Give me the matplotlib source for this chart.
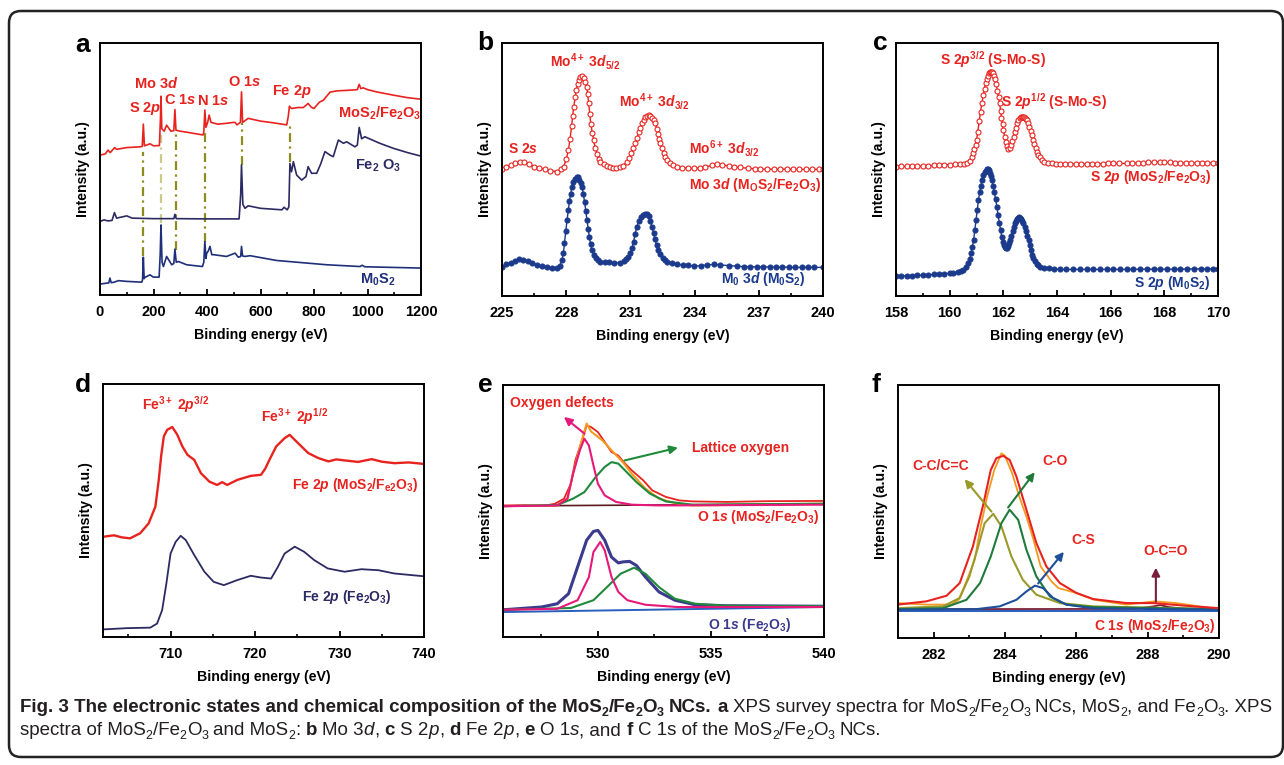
import matplotlib
matplotlib.use('Agg')
import matplotlib.pyplot as plt
from matplotlib.ticker import MultipleLocator
from matplotlib.patches import FancyBboxPatch
from matplotlib.transforms import IdentityTransform

W, H = 1284, 765
FONT = ['Liberation Sans', 'DejaVu Sans']
plt.rcParams['font.family'] = FONT
plt.rcParams['font.weight'] = 'bold'
plt.rcParams['axes.labelweight'] = 'bold'
plt.rcParams['mathtext.fontset'] = 'custom'
plt.rcParams['mathtext.rm'] = 'Liberation Sans:bold'
plt.rcParams['mathtext.it'] = 'Liberation Sans:bold:italic'
plt.rcParams['mathtext.bf'] = 'Liberation Sans:bold'
plt.rcParams['mathtext.default'] = 'rm'

RED = '#e8231f'
NAVY = '#1f2f7a'
DARK = '#2c2a62'
BLUE = '#1b3a8c'

# ---------------- panel a: survey (binding energy eV, intensity % of axis height)
a_mix_x = [0, 20, 30, 38, 55, 62, 100, 150, 158, 162, 166, 187, 200, 222, 226, 228, 231, 240, 249, 265,
           276, 280, 284, 300, 330, 385, 388, 392, 396, 403, 408, 415, 440, 470, 500, 505, 512, 525, 529,
           533, 554, 600, 650, 698, 704, 708, 716, 740, 760, 778, 790, 800, 820, 835, 860, 885, 940, 962,
           969, 975, 984, 1000, 1034, 1097, 1150, 1200]
a_mix_y = [55.5, 56.0, 57.5, 56.5, 58.5, 57.8, 58.5, 58.8, 59.0, 67.8, 59.2, 60.0, 59.2, 59.3, 70, 78.9, 66,
           65, 67.4, 65, 65.2, 73.6, 65.4, 65.0, 64.5, 63.5, 64.5, 73.4, 66.5, 68.7, 71.4, 68.5, 67.8, 68.1,
           68.5, 68.5, 67.5, 68.5, 80.6, 68.5, 70.1, 69.0, 68.3, 67.5, 71, 74.9, 74.0, 74.4, 74.4, 76.0, 74.5,
           74.0, 76.5, 77.3, 80.5, 81.0, 81.3, 81.5, 83.6, 81.9, 82.2, 81.5, 80.6, 79.3, 78.3, 77.7]
a_fe_x = [0, 15, 30, 45, 54, 62, 100, 120, 200, 276, 280, 285, 400, 520, 526, 529, 534, 542, 554, 600, 680,
          688, 700, 706, 710, 716, 723, 735, 754, 770, 778, 791, 810, 825, 841, 860, 872, 891, 910, 922, 953,
          962, 969, 978, 990, 1046, 1097, 1150, 1200]
a_fe_y = [29.2, 29.8, 29.4, 29.6, 32.7, 30.5, 31.4, 30.5, 30.3, 30.3, 32.0, 30.3, 30.2, 30.2, 40, 51.6, 36,
          34.4, 35.4, 34.4, 33.8, 34.8, 33.8, 35, 52.2, 48.9, 52.9, 47.6, 45.6, 47, 50.9, 48.3, 48.3, 52, 56.9,
          55.5, 54.9, 61.5, 60.2, 60.8, 58.8, 59.5, 66.5, 62, 62.8, 60.2, 58.2, 56.5, 55.1]
a_mos_x = [0, 25, 33, 37, 42, 50, 69, 100, 156, 159, 162, 165, 168, 187, 199, 221, 225, 228, 232, 237, 249,
           268, 276, 280, 285, 293, 324, 383, 388, 392, 396, 399, 405, 411, 418, 424, 473, 505, 517, 526, 529,
           533, 542, 561, 660, 847, 972, 980, 990, 1196]
a_mos_y = [4.35, 4.7, 4.8, 6.7, 4.9, 5.0, 5.7, 5.4, 5.1, 6, 15.0, 6.5, 7.0, 8.0, 7.1, 7.1, 16, 27.8, 13, 11.3,
           15.3, 12.0, 12.5, 18.2, 13, 13.3, 12.0, 11.3, 13, 21.2, 14.5, 16.6, 17.5, 19.3, 16, 16.0, 15.3, 16.6,
           15.0, 15.3, 19.3, 15.5, 15.3, 15.6, 13.7, 12.0, 11.3, 11.8, 11.2, 10.7]
a_guide_x = [162, 228, 283, 392, 529, 711]
a_guide_top = [56.9, 63.5, 64.8, 64.1, 68.1, 68.1]
a_guide_bot = [15.3, 28.5, 17.9, 21.2, 51.6, 52.9]

# ---------------- panel b: Mo 3d
b_mix_x = [225.0, 225.2, 225.4, 225.6, 225.86, 226.05, 226.25, 226.5, 226.75, 227.0, 227.25, 227.57, 227.75,
           227.88, 228.0, 228.1, 228.18, 228.25, 228.3, 228.35, 228.42, 228.48, 228.53, 228.58, 228.66, 228.74,
           228.82, 228.9, 228.96, 229.0, 229.05, 229.1, 229.15, 229.22, 229.28, 229.36, 229.45, 229.52, 229.6,
           229.75, 229.9, 230.05, 230.2, 230.35, 230.5, 230.65, 230.84, 230.95, 231.05, 231.14, 231.23, 231.32,
           231.4, 231.47, 231.54, 231.62, 231.7, 231.78, 231.85, 231.93, 232.0, 232.08, 232.16, 232.23, 232.3,
           232.35, 232.4, 232.48, 232.55, 232.62, 232.7, 232.85, 233.0, 233.18, 233.4, 233.7, 233.96, 234.25,
           234.5, 234.8, 235.05, 235.3, 235.6, 235.83, 236.1, 236.5, 236.8, 237.07, 237.4, 237.7, 238.0, 238.3,
           238.6, 238.9, 239.2, 239.5, 239.8, 240.0]
b_mix_y = [50.0, 51.0, 51.8, 52.5, 53.0, 52.8, 52.2, 51.1, 50.5, 50.2, 49.6, 49.1, 50.0, 51.1, 54, 57.6, 62,
           67, 71, 74.7, 78.5, 81.5, 83.6, 85.3, 86.4, 86.8, 86.2, 84.6, 82.5, 80, 76.1, 72, 68, 64.5, 61.6,
           58.5, 56, 54.3, 53.0, 52.0, 51.3, 50.8, 50.4, 50.4, 50.8, 51.5, 53.0, 54.5, 56.5, 58.5, 60.3, 62.6,
           64.8, 66.6, 68.2, 69.6, 70.6, 71.2, 71.4, 71.1, 70.4, 69.5, 68.2, 66.2, 64, 62.2, 60.3, 58.4, 56.5,
           55.0, 53.7, 52.5, 51.6, 51.1, 50.7, 50.5, 50.4, 50.7, 51.0, 51.6, 52.1, 51.8, 51.4, 51.1, 50.8, 50.5,
           50.3, 50.1, 50.2, 50.1, 50.1, 50.2, 50.1, 50.0, 50.1, 50.1, 50.0, 50.0]
b_mos_x = [225.0, 225.2, 225.4, 225.6, 225.78, 226.0, 226.2, 226.4, 226.64, 226.85, 227.1, 227.35, 227.57,
           227.7, 227.8, 227.87, 227.92, 227.98, 228.04, 228.1, 228.15, 228.21, 228.27, 228.33, 228.4, 228.5,
           228.56, 228.62, 228.68, 228.74, 228.8, 228.86, 228.92, 228.97, 229.03, 229.08, 229.14, 229.2, 229.3,
           229.4, 229.5, 229.6, 229.8, 230.0, 230.25, 230.53, 230.7, 230.8, 230.9, 231.0, 231.08, 231.15,
           231.22, 231.3, 231.4, 231.5, 231.6, 231.7, 231.78, 231.85, 231.93, 232.0, 232.08, 232.15, 232.22,
           232.3, 232.4, 232.5, 232.6, 232.7, 232.95, 233.2, 233.45, 233.7, 233.96, 234.3, 234.6, 234.9, 235.2,
           235.6, 236.0, 236.3, 236.6, 236.9, 237.2, 237.5, 237.8, 238.1, 238.4, 238.7, 239.0, 239.3, 239.6,
           240.0]
b_mos_y = [11.6, 12.6, 13.2, 14.0, 14.5, 14.3, 13.8, 13.0, 12.2, 11.8, 11.5, 11.1, 10.9, 12.0, 14.2, 17, 21,
           25.5, 30.0, 34, 37.5, 40.5, 43.2, 45, 46.2, 47.1, 46.9, 46.0, 44.8, 43.2, 40.5, 37, 33.5, 30.0, 26.5,
           23.5, 20.5, 18.2, 16.4, 15.2, 14.3, 13.6, 13.3, 13.3, 13.2, 13.2, 14.0, 14.5, 15.5, 16.8, 19, 21.5,
           24.5, 27.4, 29.5, 31.2, 32.2, 32.6, 32.3, 31.6, 29.8, 27.4, 25, 22.5, 20.2, 18.2, 16.5, 15.0, 14.2,
           13.6, 13.0, 12.5, 12.3, 12.1, 11.8, 12.0, 12.3, 12.5, 12.3, 12.0, 11.8, 11.6, 11.6, 11.5, 11.5, 11.5,
           11.4, 11.4, 11.4, 11.3, 11.3, 11.3, 11.3, 11.3]

# ---------------- panel c: S 2p
c_mix_x = [158.0, 158.2, 158.4, 158.6, 158.8, 159.0, 159.2, 159.4, 159.6, 159.8, 160.0, 160.2, 160.39, 160.52,
           160.64, 160.74, 160.82, 160.88, 160.92, 160.97, 161.0, 161.05, 161.1, 161.15, 161.2, 161.25, 161.3,
           161.34, 161.38, 161.42, 161.46, 161.5, 161.53, 161.57, 161.61, 161.65, 161.69, 161.74, 161.78,
           161.82, 161.86, 161.9, 161.93, 161.97, 162.0, 162.05, 162.1, 162.15, 162.19, 162.24, 162.28, 162.33,
           162.38, 162.43, 162.47, 162.52, 162.56, 162.61, 162.65, 162.69, 162.73, 162.77, 162.81, 162.85,
           162.88, 162.93, 162.97, 163.02, 163.06, 163.1, 163.15, 163.2, 163.25, 163.31, 163.37, 163.43, 163.5,
           163.65, 163.8, 163.95, 164.12, 164.3, 164.5, 164.7, 164.9, 165.1, 165.3, 165.5, 165.7, 165.9, 166.1,
           166.3, 166.6, 166.8, 167.0, 167.2, 167.4, 167.6, 167.85, 168.0, 168.2, 168.4, 168.6, 168.8, 169.0,
           169.2, 169.4, 169.6, 169.8, 170.0]
c_mix_y = [51.1, 51.2, 51.2, 51.3, 51.3, 51.4, 51.4, 51.6, 51.7, 51.8, 51.9, 52.0, 52.1, 52.3, 52.6, 53.5,
           55.0, 56.5, 58, 59.8, 61.6, 65, 69, 72.8, 76.1, 79.3, 82, 84.1, 85.9, 87.1, 88, 88.5, 88.6, 88.4, 88,
           87.1, 85.9, 83.6, 81, 78.6, 76.1, 73.2, 70.5, 67.8, 65.5, 63, 61, 59.3, 58.3, 58.6, 59.8, 61.3, 62.9,
           64.8, 66.5, 68.2, 69.5, 70.2, 70.6, 70.8, 70.8, 70.7, 70.4, 70.0, 69.5, 68.2, 66.8, 65.2, 63.6, 61.8,
           60, 58.4, 57.0, 55.8, 54.8, 53.8, 53.0, 52.7, 52.5, 52.3, 52.1, 52.1, 52.1, 52.2, 52.2, 52.2, 52.3,
           52.3, 52.3, 52.4, 52.4, 52.4, 52.4, 52.5, 52.6, 52.7, 52.8, 52.9, 53.0, 52.9, 52.8, 52.7, 52.6, 52.6,
           52.6, 52.6, 52.6, 52.6, 52.6, 52.6]
c_mos_x = [158.0, 158.2, 158.4, 158.6, 158.8, 159.0, 159.2, 159.4, 159.6, 159.8, 160.0, 160.14, 160.3, 160.42,
           160.51, 160.6, 160.7, 160.75, 160.8, 160.85, 160.89, 160.94, 160.98, 161.03, 161.07, 161.12, 161.16,
           161.21, 161.26, 161.3, 161.34, 161.38, 161.41, 161.45, 161.49, 161.53, 161.57, 161.62, 161.67,
           161.71, 161.76, 161.8, 161.85, 161.9, 161.94, 161.98, 162.02, 162.06, 162.09, 162.13, 162.17, 162.22,
           162.26, 162.3, 162.35, 162.4, 162.44, 162.48, 162.52, 162.56, 162.59, 162.63, 162.67, 162.71, 162.75,
           162.8, 162.85, 162.9, 162.94, 162.98, 163.03, 163.08, 163.12, 163.18, 163.25, 163.31, 163.37, 163.5,
           163.7, 163.9, 164.12, 164.35, 164.6, 164.85, 165.1, 165.35, 165.6, 165.85, 166.1, 166.35, 166.6,
           166.85, 167.1, 167.35, 167.6, 167.85, 168.1, 168.35, 168.6, 168.85, 169.1, 169.35, 169.6, 169.8,
           170.0]
c_mos_y = [7.9, 7.9, 8.0, 8.1, 8.2, 8.2, 8.3, 8.5, 8.6, 8.8, 9.0, 9.2, 9.5, 9.9, 10.3, 11.3, 12.9, 14.5, 17,
           19.5, 22.1, 26, 30, 34, 37.9, 41, 43.5, 45.8, 47.8, 48.9, 49.6, 50.0, 50.1, 49.8, 48.8, 47.5, 45.8,
           43.5, 41, 38.2, 35.3, 32.1, 29, 26, 23.4, 21.5, 20.3, 19.3, 18.8, 19.1, 19.8, 20.9, 22.1, 23.8, 25.7,
           27.3, 28.7, 29.8, 30.6, 31.0, 31.1, 31.0, 30.6, 29.8, 28.7, 27.2, 25.5, 23.8, 22.1, 20, 18, 16.2, 14.9,
           13.8, 12.8, 12.1, 11.6, 11.2, 10.9, 10.7, 10.5, 10.5, 10.5, 10.5, 10.5, 10.5, 10.5, 10.5, 10.5, 10.5,
           10.5, 10.5, 10.6, 10.6, 10.6, 10.6, 10.6, 10.6, 10.6, 10.7, 10.7, 10.7, 10.7, 10.7, 10.7]

# ---------------- panel d: Fe 2p
d_mix_x = [702.0, 703.3, 704.2, 705.2, 706.4, 707.4, 708.2, 708.6, 708.9, 709.2, 709.6, 710.2, 710.8, 711.4,
           712.0, 712.8, 713.6, 714.6, 715.5, 716.1, 716.7, 717.9, 719.5, 720.7, 721.2, 721.7, 722.5, 723.5,
           724.1, 725.1, 726.3, 727.5, 728.7, 729.6, 730.6, 732.2, 733.8, 735.0, 736.5, 738.2, 740.0]
d_mix_y = [39.6, 40.2, 39.4, 39.0, 41.0, 44.9, 51.5, 62.1, 72, 79.3, 81.9, 83.0, 79.9, 75.3, 72.0, 70.0, 64.7,
           61.4, 60.1, 61.2, 60.1, 62.1, 63.7, 64.1, 66.5, 70.0, 75.3, 78.6, 79.9, 76.6, 72.7, 70.7, 69.4, 70.2,
           69.8, 69.2, 70.3, 69.3, 68.7, 69.0, 68.4]
d_fe_x = [702.0, 704.85, 707.6, 708.4, 709.0, 709.5, 710.0, 710.6, 711.2, 711.8, 712.8, 714.0, 715.1, 716.3,
          717.9, 719.5, 720.7, 721.9, 722.7, 723.5, 724.7, 725.8, 727.0, 728.6, 730.6, 732.6, 734.6, 736.5,
          740.0]
d_fe_y = [3.0, 3.5, 3.7, 5.3, 10.6, 21.1, 33.0, 37.6, 40.0, 38.3, 32.4, 25.8, 21.8, 20.5, 22.5, 24.2, 23.5,
          23.1, 27.7, 33.0, 35.7, 33.7, 30.4, 27.1, 25.8, 26.8, 26.4, 25.1, 24.0]

# ---------------- panel e: O 1s
e_mix_x = [525.8, 526.75, 527.6, 528.1, 528.5, 528.8, 529.0, 529.3, 529.5, 529.7, 530.0, 530.3, 530.6, 530.9,
           531.2, 531.5, 532.0, 532.4, 533.0, 533.6, 534.2, 535.7, 537.5, 540.0]
e_mix_y = [52.2, 52.3, 52.0, 52.9, 54.9, 60.8, 70.1, 78.0, 84.0, 83.3, 81.3, 77.4, 73.4, 72.0, 68.8, 66.1, 62.2,
           58.2, 55.6, 54.2, 53.8, 53.6, 53.9, 54.0]
e_env_x = [525.8, 528.2, 528.65, 528.9, 529.2, 529.5, 529.7, 530.2, 530.6, 531.1, 531.5, 532.1, 532.7, 533.5,
           534.2, 540.0]
e_env_y = [51.9, 52.2, 54.9, 64.8, 75.4, 84.7, 81.5, 78.0, 74.1, 69.4, 64.8, 58.9, 54.9, 52.9, 52.2, 52.9]
e_def_x = [525.8, 528.2, 528.65, 528.9, 529.2, 529.4, 529.6, 529.8, 530.0, 530.3, 530.8, 531.5, 532.7, 540.0]
e_def_y = [51.9, 52.2, 54.9, 64.8, 74.1, 78.7, 76.0, 68.1, 60.8, 56.2, 53.6, 52.5, 52.2, 52.5]
e_lat_x = [525.8, 528.2, 528.9, 529.4, 529.9, 530.3, 530.6, 530.9, 531.2, 531.7, 532.3, 533.0, 534.2, 540.0]
e_lat_y = [51.9, 52.4, 54.9, 57.5, 63.5, 67.5, 69.4, 68.8, 66.1, 61.5, 56.9, 53.8, 52.5, 52.9]
e_base1_x = [525.8, 540.0]
e_base1_y = [52.0, 52.8]
e_fe_x = [525.8, 527.5, 528.2, 528.7, 529.1, 529.5, 529.8, 530.0, 530.3, 530.6, 530.9, 531.1, 531.4, 531.7,
          532.1, 532.7, 533.4, 534.3, 535.7, 540.0]
e_fe_y = [10.8, 11.9, 13.2, 17.2, 27.8, 38.4, 41.9, 42.3, 38.4, 31.7, 29.4, 29.8, 30.0, 28.4, 23.8, 17.9, 14.6,
          12.8, 12.4, 12.2]
e_def2_x = [525.8, 528.2, 529.1, 529.6, 529.8, 530.1, 530.3, 530.6, 530.9, 531.3, 532.1, 533.5, 540.0]
e_def2_y = [10.8, 11.2, 14.6, 23.8, 33.7, 37.7, 34.4, 23.8, 17.9, 14.6, 12.8, 11.9, 11.9]
e_lat2_x = [525.8, 528.8, 529.8, 530.4, 531.0, 531.6, 532.1, 532.7, 533.4, 534.3, 535.7, 540.0]
e_lat2_y = [10.8, 11.5, 14.6, 19.8, 25.1, 27.5, 25.1, 19.8, 15.2, 13.2, 12.4, 12.2]
e_base2_x = [525.8, 540.0]
e_base2_y = [9.9, 11.9]

# ---------------- panel f: C 1s
f_raw_x = [281.0, 281.8, 282.5, 282.7, 282.9, 283.15, 283.3, 283.5, 283.7, 283.9, 284.0, 284.2, 284.4, 284.6,
           284.8, 285.0, 285.3, 285.5, 286.0, 286.5, 287.4, 288.2, 288.8, 290.0]
f_raw_y = [13.8, 13.2, 13.2, 15.1, 21.7, 30.9, 42.8, 55.9, 66.4, 73.0, 72.0, 65.1, 55.9, 48.0, 38.8, 28.3, 22.4,
           19.7, 17.8, 15.1, 13.2, 14.5, 13.8, 11.4]
f_env_x = [281.0, 281.8, 282.36, 282.73, 283.1, 283.4, 283.6, 283.76, 283.95, 284.13, 284.32, 284.6, 284.88,
           285.16, 285.54, 286.0, 286.47, 287.4, 288.16, 289.28, 290.0]
f_env_y = [13.2, 14.5, 16.7, 21.7, 36.2, 53.3, 66.4, 71.1, 72.0, 70.4, 63.8, 50.7, 37.5, 28.3, 21.7, 17.8, 15.4,
           13.8, 13.8, 12.5, 11.8]
f_cc_x = [281.0, 282.26, 282.73, 283.0, 283.25, 283.43, 283.67, 283.9, 284.18, 284.5, 284.88, 285.54, 286.47,
          290.0]
f_cc_y = [11.8, 12.5, 15.8, 24.3, 36.2, 45.4, 49.1, 44.1, 32.2, 23.0, 17.1, 13.8, 12.5, 11.4]
f_co_x = [281.0, 282.26, 282.92, 283.3, 283.6, 283.9, 284.13, 284.37, 284.6, 284.88, 285.26, 285.72, 286.47,
          290.0]
f_co_y = [11.4, 11.8, 15.1, 21.7, 32.2, 45.4, 50.7, 46.7, 34.9, 24.3, 16.4, 13.2, 12.2, 11.4]
f_cs_x = [281.0, 283.2, 283.85, 284.32, 284.6, 284.84, 285.07, 285.35, 285.72, 286.47, 290.0]
f_cs_y = [11.2, 11.4, 12.5, 15.1, 18.4, 20.7, 19.7, 15.8, 13.2, 11.7, 11.2]
f_oco_x = [281.0, 287.6, 288.16, 288.35, 288.6, 289.1, 290.0]
f_oco_y = [11.4, 11.5, 12.5, 13.0, 12.2, 11.5, 11.4]
f_base_x = [281.0, 290.0]
f_base_y = [10.5, 10.5]


def px_axes(fig, l, t, r, b):
    return fig.add_axes([l / W, (H - b) / H, (r - l) / W, (b - t) / H])


def style(ax, xlim, major, minor):
    ax.set_xlim(*xlim)
    ax.set_ylim(0, 100)
    ax.xaxis.set_major_locator(MultipleLocator(major))
    ax.xaxis.set_minor_locator(MultipleLocator(minor))
    ax.tick_params(axis='x', which='major', direction='in', length=4, width=1.3, labelsize=10.5, pad=7)
    ax.tick_params(axis='x', which='minor', direction='in', length=2.5, width=1.2)
    ax.tick_params(axis='y', left=False, labelleft=False, which='both')
    for s in ax.spines.values():
        s.set_linewidth(1.4)
    ax.set_xlabel('Binding energy (eV)', fontsize=10.2, labelpad=7)
    ax.set_ylabel('Intensity (a.u.)', fontsize=10.2, labelpad=7)


def lab(ax, x, y, s, color=RED, size=10, ha='center'):
    ax.text(x, y, s, color=color, fontsize=size, ha=ha, va='center', fontweight='bold')


fig = plt.figure(figsize=(W / 100, H / 100), dpi=100)

# a
ax = px_axes(fig, 100, 43, 421, 295)
for gx, gt, gb in zip(a_guide_x, a_guide_top, a_guide_bot):
    ax.plot([gx, gx], [gb, gt], color='#8c8c1e' if gx != 228 else '#c9c98a',
            lw=1.6, ls=(0, (4, 2, 1, 2)))
ax.plot(a_mix_x, a_mix_y, color=RED, lw=1.2)
ax.plot(a_fe_x, a_fe_y, color=DARK, lw=1.2)
ax.plot(a_mos_x, a_mos_y, color=NAVY, lw=1.2)
style(ax, (0, 1200), 200, 100)
lab(ax, 168, 74, 'S 2$\\mathit{p}$', size=10.5)
lab(ax, 212, 84, 'Mo 3$\\mathit{d}$', size=10.5)
lab(ax, 299, 77.3, 'C 1$\\mathit{s}$', size=10.5)
lab(ax, 424, 76.9, 'N 1$\\mathit{s}$', size=10.5)
lab(ax, 542, 84.6, 'O 1$\\mathit{s}$', size=10.5)
lab(ax, 719, 80.6, 'Fe 2$\\mathit{p}$', size=10.5)
lab(ax, 1044, 72, 'MoS$_2$/Fe$_2$O$_3$', size=10.5)
lab(ax, 1040, 51.2, 'Fe$_2$ O$_3$', color=DARK, size=10.5)
lab(ax, 1040, 6.1, 'M$_0$S$_2$', color=NAVY, size=10.5)

# b
ax = px_axes(fig, 502, 43, 823, 296)
ax.plot(b_mix_x, b_mix_y, '-o', color=RED, lw=1, ms=3.6, mfc='white', mew=0.8)
ax.plot(b_mos_x, b_mos_y, '-o', color=BLUE, lw=1, ms=3.6, mew=0.8)
style(ax, (225, 240), 3, 1.5)
lab(ax, 226.0, 58.3, 'S 2$\\mathit{s}$')
lab(ax, 228.9, 92.5, 'Mo$^{4+}$ 3$\\mathit{d}_{5/2}$')
lab(ax, 232.1, 76.7, 'Mo$^{4+}$ 3$\\mathit{d}_{3/2}$')
lab(ax, 235.4, 58.3, 'Mo$^{6+}$ 3$\\mathit{d}_{3/2}$')
lab(ax, 239.9, 43.8, 'Mo 3$\\mathit{d}$ (M$_\\mathrm{O}$S$_2$/Fe$_2$O$_3$)', ha='right')
lab(ax, 237.2, 6.6, 'M$_0$ 3$\\mathit{d}$ (M$_0$S$_2$)', color=BLUE)

# c
ax = px_axes(fig, 896, 43, 1218, 296)
ax.plot(c_mix_x, c_mix_y, '-o', color=RED, lw=1, ms=3.6, mfc='white', mew=0.8)
ax.plot(c_mos_x, c_mos_y, '-o', color=BLUE, lw=1, ms=3.6, mew=0.8)
style(ax, (158, 170), 2, 1)
lab(ax, 161.63, 93.4, 'S 2$\\mathit{p}^{3/2}$ (S-Mo-S)')
lab(ax, 163.87, 76.7, 'S 2$\\mathit{p}^{1/2}$ (S-Mo-S)')
lab(ax, 167.5, 47.1, 'S 2$\\mathit{p}$ (MoS$_2$/Fe$_2$O$_3$)')
lab(ax, 168.3, 5.0, 'S 2$\\mathit{p}$ (M$_0$S$_2$)', color=BLUE)

# d
ax = px_axes(fig, 103, 384, 424, 637)
ax.plot(d_mix_x, d_mix_y, color=RED, lw=1.7)
ax.plot(d_fe_x, d_fe_y, color=DARK, lw=1.3)
style(ax, (702, 740), 10, 5)
lab(ax, 710.6, 91.8, 'Fe$^{3+}$ 2$\\mathit{p}^{3/2}$')
lab(ax, 724.7, 87.2, 'Fe$^{3+}$ 2$\\mathit{p}^{1/2}$')
lab(ax, 731.8, 60.1, 'Fe 2$\\mathit{p}$ (MoS$_2$/F$_{e2}$O$_3$)')
lab(ax, 730.8, 15.9, 'Fe 2$\\mathit{p}$ (Fe$_2$O$_3$)', color=DARK)

# e
ax = px_axes(fig, 503, 385, 824, 637)
ax.plot(e_base1_x, e_base1_y, color='#5a1a1a', lw=1.2)
ax.plot(e_mix_x, e_mix_y, color=RED, lw=1.3)
ax.plot(e_env_x, e_env_y, color='#f39a1e', lw=1.5)
ax.plot(e_lat_x, e_lat_y, color='#1f8a3c', lw=1.5)
ax.plot(e_def_x, e_def_y, color='#e6197a', lw=1.5)
ax.plot(e_base2_x, e_base2_y, color='#2b5fbf', lw=1.4)
ax.plot(e_fe_x, e_fe_y, color='#3b3a8c', lw=2.2)
ax.plot(e_lat2_x, e_lat2_y, color='#1f8a3c', lw=1.5)
ax.plot(e_def2_x, e_def2_y, color='#e6197a', lw=1.5)
style(ax, (525.8, 540), 5, 2.5)
ax.annotate('', xy=(528.4, 88.0), xytext=(529.5, 80.0),
            arrowprops=dict(arrowstyle='-|>', color='#e6197a', lw=1.5, mutation_scale=12))
ax.annotate('', xy=(533.66, 75.4), xytext=(531.06, 69.8),
            arrowprops=dict(arrowstyle='-|>', color='#1f8a3c', lw=1.5, mutation_scale=12))
lab(ax, 528.4, 93.0, 'Oxygen defects')
lab(ax, 536.3, 75.0, 'Lattice oxygen')
lab(ax, 537.1, 47.6, 'O 1$\\mathit{s}$ (MoS$_2$/Fe$_2$O$_3$)')
lab(ax, 536.7, 4.6, 'O 1$\\mathit{s}$ (Fe$_2$O$_3$)', color='#3b3a8c')

# f
ax = px_axes(fig, 898, 385, 1219, 638)
ax.plot(f_base_x, f_base_y, color='#2b5fbf', lw=1.4)
ax.plot(f_oco_x, f_oco_y, color='#7a1f3a', lw=1.3)
ax.plot(f_raw_x, f_raw_y, color='#f39a1e', lw=1.3)
ax.plot(f_cc_x, f_cc_y, color='#9a9a2a', lw=1.5)
ax.plot(f_co_x, f_co_y, color='#1f7a3c', lw=1.5)
ax.plot(f_cs_x, f_cs_y, color='#1f4f9a', lw=1.5)
ax.plot(f_env_x, f_env_y, color=RED, lw=1.5)
style(ax, (281, 290), 2, 1)
for (hx, hy), (tx, ty), col in [((282.82, 63.6), (283.67, 49.1), '#9a9a2a'),
                                ((284.88, 66.4), (284.04, 50.7), '#1f7a3c'),
                                ((285.7, 34.9), (284.88, 20.7), '#1f4f9a'),
                                ((288.23, 28.9), (288.23, 13.2), '#7a1f3a')]:
    ax.annotate('', xy=(hx, hy), xytext=(tx, ty),
                arrowprops=dict(arrowstyle='-|>', color=col, lw=1.5, mutation_scale=12))
lab(ax, 282.2, 67.8, 'C-C/C=C')
lab(ax, 285.4, 70.1, 'C-O')
lab(ax, 286.2, 38.8, 'C-S')
lab(ax, 288.5, 34.5, 'O-C=O')
lab(ax, 288.2, 4.6, 'C 1$\\mathit{s}$ (MoS$_2$/Fe$_2$O$_3$)')

# panel letters
for ch, px, py in [('a', 83, 45), ('b', 485, 43), ('c', 880, 43), ('d', 83, 385), ('e', 485, 385), ('f', 876, 385)]:
    fig.text(px / W, 1 - py / H, ch, fontsize=19, fontweight='bold', ha='center', va='center')

# border
fig.add_artist(FancyBboxPatch((9, 8), 1274, 746, boxstyle='round,pad=0,rounding_size=12',
                              transform=IdentityTransform(), fill=False, ec='#222222', lw=1.8))

# caption, drawn run by run
cap1 = [('Fig. 3 The electronic states and chemical composition of the MoS', 'bold', 'normal', False),
        ('2', 'bold', 'normal', True), ('/Fe', 'bold', 'normal', False), ('2', 'bold', 'normal', True),
        ('O', 'bold', 'normal', False), ('3', 'bold', 'normal', True), (' NCs. ', 'bold', 'normal', False),
        ('a', 'bold', 'normal', False), (' XPS survey spectra for MoS', 'normal', 'normal', False),
        ('2', 'normal', 'normal', True), ('/Fe', 'normal', 'normal', False), ('2', 'normal', 'normal', True),
        ('O', 'normal', 'normal', False), ('3', 'normal', 'normal', True), (' NCs, MoS', 'normal', 'normal', False),
        ('2', 'normal', 'normal', True), (', and Fe', 'normal', 'normal', False), ('2', 'normal', 'normal', True),
        ('O', 'normal', 'normal', False), ('3', 'normal', 'normal', True), ('. XPS', 'normal', 'normal', False)]
cap2 = [('spectra of MoS', 'normal', 'normal', False), ('2', 'normal', 'normal', True),
        ('/Fe', 'normal', 'normal', False), ('2', 'normal', 'normal', True), ('O', 'normal', 'normal', False),
        ('3', 'normal', 'normal', True), (' and MoS', 'normal', 'normal', False), ('2', 'normal', 'normal', True),
        (': ', 'normal', 'normal', False), ('b', 'bold', 'normal', False), (' Mo 3', 'normal', 'normal', False),
        ('d', 'normal', 'italic', False), (', ', 'normal', 'normal', False), ('c', 'bold', 'normal', False),
        (' S 2', 'normal', 'normal', False), ('p', 'normal', 'italic', False), (', ', 'normal', 'normal', False),
        ('d', 'bold', 'normal', False), (' Fe 2', 'normal', 'normal', False), ('p', 'normal', 'italic', False),
        (', ', 'normal', 'normal', False), ('e', 'bold', 'normal', False), (' O 1', 'normal', 'normal', False),
        ('s', 'normal', 'italic', False), (', and ', 'normal', 'normal', False), ('f', 'bold', 'normal', False),
        (' C 1s of the MoS', 'normal', 'normal', False), ('2', 'normal', 'normal', True),
        ('/Fe', 'normal', 'normal', False), ('2', 'normal', 'normal', True), ('O', 'normal', 'normal', False),
        ('3', 'normal', 'normal', True), (' NCs.', 'normal', 'normal', False)]

ren = fig.canvas.get_renderer()


def width_of(s, size, weight='normal'):
    t = fig.text(0, 0, s, fontsize=size, fontweight=weight, family=FONT)
    w = t.get_window_extent(ren).width
    t.remove()
    return w


def put_runs(x0, ytop, runs, size):
    sp = width_of('a a', size) - width_of('aa', size)
    x = x0
    made = []
    for txt, wt, st, sub in runs:
        lead = len(txt) - len(txt.lstrip(' '))
        trail = len(txt) - len(txt.rstrip(' '))
        core = txt.strip(' ')
        x += lead * sp
        fs = size * 0.66 if sub else size
        y = ytop + (size * 0.32 if sub else 0)
        t = fig.text(x / W, 1 - y / H, core, fontsize=fs, fontweight=wt, fontstyle=st,
                     family=FONT, color='#231f20', va='baseline')
        made.append(t)
        x = t.get_window_extent(ren).x1 + trail * sp
    return x, made


size = 13
end, made = put_runs(20, 712, cap1, size)
for t in made:
    t.remove()
size = size * (1274 - 20) / (end - 20)
put_runs(20, 712, cap1, size)
put_runs(20, 735, cap2, size)

fig.savefig('out.png', dpi=100)
